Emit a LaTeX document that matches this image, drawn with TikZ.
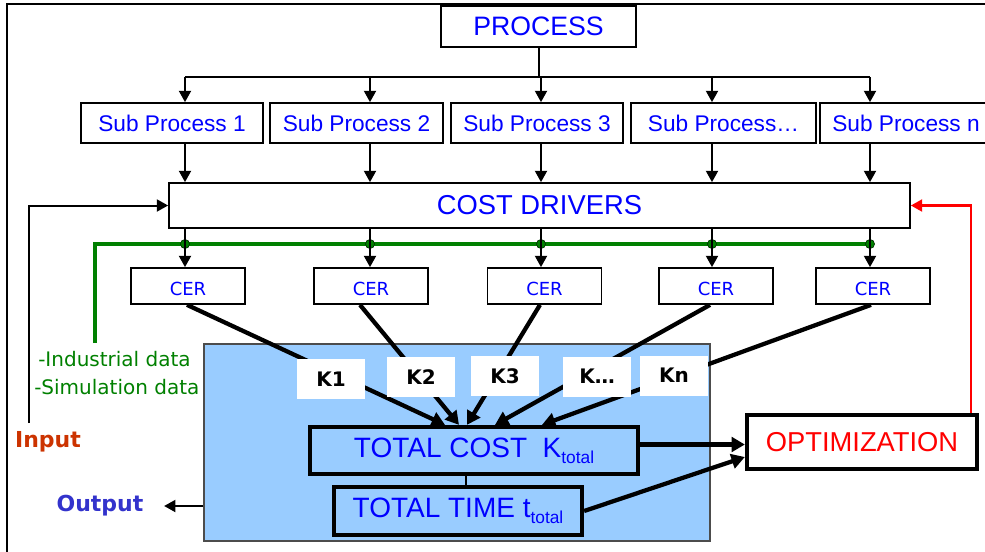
\documentclass[tikz,border=0pt]{standalone}
\usepackage{fontspec}
\setmainfont{Liberation Sans}
\newfontfamily\tahoma{DejaVu Sans}
\usetikzlibrary{arrows.meta}
\definecolor{txtblue}{HTML}{0000FF}
\definecolor{panelblue}{HTML}{99CCFF}
\definecolor{datagreen}{HTML}{008000}
\definecolor{inred}{HTML}{CC3300}
\definecolor{outblue}{HTML}{3333CC}

\begin{document}
\begin{tikzpicture}[x=0.75pt, y=-0.75pt,
    box/.style={draw, line width=1.3pt, fill=white, inner sep=0pt, text=txtblue},
    bigbox/.style={draw, line width=3.2pt, inner sep=0pt, text=txtblue},
    klabel/.style={fill=white, inner sep=0pt, minimum width=51pt, minimum height=30pt,
        font=\tahoma\bfseries\fontsize{15}{15}\selectfont},
    arr/.style={line width=1.5pt, -{Triangle[length=8.5pt, width=9pt]}},
    karr/.style={line width=3.2pt, -{Triangle[length=10pt, width=11pt]}}]
    \useasboundingbox (0,0) rectangle (985,551);
    \clip (0,0) rectangle (985,551);
    \draw[line width=2.2pt] (7,560) -- (7,4) -- (995,4); % frame, cut at the right

    \node[box, minimum width=146.25pt, minimum height=30.75pt, font=\fontsize{20}{20}\selectfont] (proc) at (538.5,26.5) {PROCESS};
    \foreach \i/\x/\w/\t in {1/172/136.5/Sub Process 1, 2/356.5/129.75/Sub Process 2, 3/537/129/Sub Process 3,
        4/723.5/138.75/Sub Process…, 5/906/129/Sub Process n} {
        \node[box, minimum width=\w pt, minimum height=30pt, font=\fontsize{17}{17}\selectfont] (sp\i) at (\x,123) {\t};
      }
    \node[box, minimum width=555.75pt, minimum height=33.75pt, font=\fontsize{20.5}{20.5}\selectfont] (cd) at (539.5,205.5) {COST DRIVERS};
    \foreach \i/\x in {1/188, 2/371, 3/544.5, 4/716, 5/873} {
        \node[box, minimum width=85.5pt, minimum height=27pt, text height=14pt, text depth=0pt,
            font=\tahoma\fontsize{13.5}{13.5}\selectfont] (cer\i) at (\x,286) {CER};
      }

    \node[draw=black!70, line width=0.8pt, fill=panelblue, inner sep=0pt,
        minimum width=379.5pt, minimum height=147.75pt] (panel) at (457,442.5) {};
    \node[bigbox, fill=panelblue, minimum width=246pt, minimum height=35.25pt, font=\fontsize{21}{21}\selectfont]
        (tc) at (474,450.5) {TOTAL COST\ \ K\raisebox{-4.5pt}{\fontsize{13}{13}\selectfont total}};
    \node[bigbox, fill=panelblue, minimum width=186pt, minimum height=36pt, font=\fontsize{21}{21}\selectfont]
        (tt) at (458,511) {TOTAL TIME t\raisebox{-4.5pt}{\fontsize{13}{13}\selectfont total}};
    \node[bigbox, fill=white, text=red, minimum width=172.5pt, minimum height=40.5pt, font=\fontsize{20.5}{20.5}\selectfont]
        (opt) at (862,442) {OPTIMIZATION};

    \node[text=inred, font=\tahoma\bfseries\fontsize{16.5}{16.5}\selectfont] (input) at (48,442) {Input};
    \node[text=outblue, font=\tahoma\bfseries\fontsize{16.5}{16.5}\selectfont] (output) at (100,506) {Output};
    \node[anchor=west, inner sep=0pt, text=datagreen, font=\tahoma\fontsize{15}{15}\selectfont] (indata) at (38,359) {-Industrial data};
    \node[anchor=west, inner sep=0pt, text=datagreen, font=\tahoma\fontsize{15}{15}\selectfont] (simdata) at (34,387) {-Simulation data};

    % columns of the arrows
    \foreach \i/\x in {1/185, 2/370, 3/541, 4/712, 5/870} {
        \coordinate (col\i) at (\x,77);
      }
    \coordinate (gbus) at (95,244);
    \coordinate (gend) at (95,343);
    \coordinate (inp) at (29,423);

    \draw[line width=1.5pt] (proc.south) -- (proc.south |- col3);
    \draw[line width=1.5pt] (col1) -- (col5);
    \draw[line width=3pt, datagreen] (gend) |- (col5 |- gbus);
    \foreach \i in {1,...,5} {
        \draw[arr] (col\i) -- (col\i |- sp\i.north);
        \draw[arr] (col\i |- sp\i.south) -- (col\i |- cd.north);
        \filldraw[fill=datagreen, draw=black!60!datagreen, line width=0.5pt] (col\i |- gbus) circle (3.4pt);
        \draw[arr] (col\i |- cd.south) -- (col\i |- cer\i.north);
      }
    \draw[arr] (inp) |- (cd.west);
    \draw[arr, red, line width=1.8pt] ([xshift=-6pt]opt.north east) |- (cd.east);

    \foreach \i/\sx/\ex in {1/-0.75/-21.75, 2/-8.25/-11.25, 3/-3.4/-5.25, 4/-4.5/15.75, 5/-1.5/51} {
        \draw[karr] ([xshift=\sx pt]cer\i.south) -- ([xshift=\ex pt]tc.north);
      }
    \foreach \i/\x/\y/\t in {1/331/379/K1, 2/421/377/K2, 3/505/376/K3, 4/597/376.5/K…, 5/674/375.5/Kn} {
        \node[klabel] (k\i) at (\x,\y) {\t};
      }

    \draw[line width=1.5pt] ([xshift=-6pt]tc.south) -- ([xshift=-6pt]tc.south |- tt.north);
    \draw[karr] ([yshift=4.5pt]tc.east) -- ([yshift=4.5pt]tc.east -| opt.west);
    \draw[karr] (tt.east) -- ([yshift=-11.25pt]opt.west);
    \draw[arr] (panel.west |- output) -- ([xshift=12pt]output.east);
\end{tikzpicture}
\end{document}
